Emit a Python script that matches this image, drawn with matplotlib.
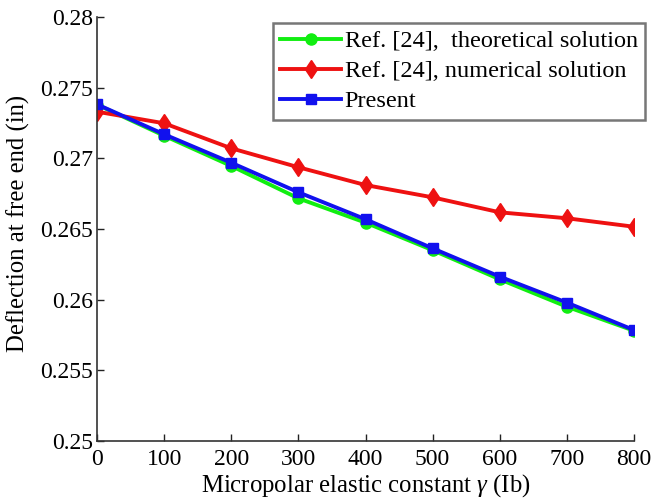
import matplotlib
matplotlib.use("Agg")
import matplotlib.pyplot as plt

plt.rcParams['font.family'] = ['Liberation Serif', 'DejaVu Serif']
plt.rcParams['mathtext.fontset'] = 'custom'
plt.rcParams['mathtext.rm'] = 'Liberation Serif'
plt.rcParams['mathtext.it'] = 'Liberation Serif:italic'

# micropolar elastic constant (Ib)
gamma = [0, 100, 200, 300, 400, 500, 600, 700, 800]

# deflection at free end (in)
theoretical = [0.2738, 0.2716, 0.26946, 0.26717, 0.26545, 0.2635, 0.26144, 0.2595, 0.2578]
numerical = [0.2733, 0.27248, 0.27071, 0.26937, 0.26811, 0.26724, 0.26618, 0.26576, 0.26516]
present = [0.27382, 0.2717, 0.26969, 0.2676, 0.26569, 0.26363, 0.26163, 0.25979, 0.25785]

x_ticks = [0, 100, 200, 300, 400, 500, 600, 700, 800]
y_ticks = [0.25, 0.255, 0.26, 0.265, 0.27, 0.275, 0.28]
y_tick_labels = ['0.25', '0.255', '0.26', '0.265', '0.27', '0.275', '0.28']

fig = plt.figure(figsize=(6.51, 5.03), dpi=100)
ax = fig.add_axes([97 / 651, 1 - 441 / 503, (634 - 97) / 651, (441 - 17) / 503])

ax.plot(gamma, theoretical, color='#11ee11', lw=2.8, marker='o', ms=8,
        label='Ref. [24],  theoretical solution')
ax.plot(gamma, numerical, color='#ee1111', lw=2.8, marker='d', ms=9.5,
        label='Ref. [24], numerical solution')
ax.plot(gamma, present, color='#1111ee', lw=2.8, marker='s', ms=7.5,
        label='Present')

ax.set_xlim(0, 800)
ax.set_ylim(0.25, 0.28)
ax.set_xticks(x_ticks)
ax.set_yticks(y_ticks)
ax.set_yticklabels(y_tick_labels)
ax.tick_params(direction='in', labelsize=17, length=5, width=1, colors='#222222',
               labelcolor='black')
ax.tick_params(axis='x', pad=6)
ax.tick_params(axis='y', pad=3)
ax.spines['top'].set_visible(False)
ax.spines['right'].set_visible(False)
for s in ['left', 'bottom']:
    ax.spines[s].set_linewidth(1.2)
    ax.spines[s].set_color('#333333')

ax.set_xlabel(r'Micropolar elastic constant $\gamma$ (Ib)', fontsize=17.8, labelpad=1)
ax.set_ylabel('Deflection at free end (in)', fontsize=17.8)
ax.yaxis.set_label_coords(-0.124, 0.513)

leg = ax.legend(loc='upper right', bbox_to_anchor=(645 / 651, 1 - 23 / 503),
                bbox_transform=fig.transFigure, fontsize=17.5, fancybox=False,
                handlelength=2.5, handletextpad=0.15, borderpad=0.3,
                labelspacing=0.33, borderaxespad=0, framealpha=1)
leg.get_frame().set_edgecolor('#777777')
leg.get_frame().set_linewidth(1.8)

fig.savefig('out.png', dpi=100)
